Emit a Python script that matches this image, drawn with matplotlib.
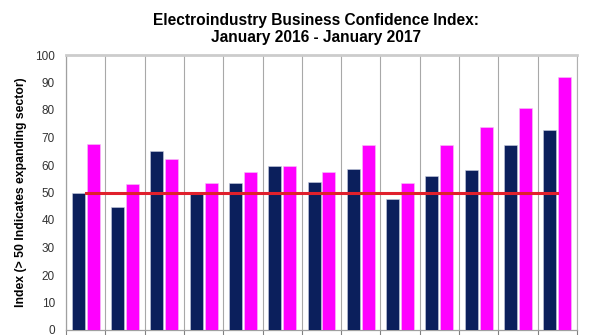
import numpy as np
import matplotlib
matplotlib.use("Agg")
import matplotlib.pyplot as plt

plt.rcParams['font.family'] = ['Liberation Sans', 'DejaVu Sans']

# ----- data -----
months = ["Jan-16", "Feb-16", "Mar-16", "Apr-16", "May-16", "Jun-16", "Jul-16",
          "Aug-16", "Sep-16", "Oct-16", "Nov-16", "Dec-16", "Jan-17"]
current = [50.0, 44.7, 65.0, 49.8, 53.5, 59.7, 53.9, 58.6, 47.5, 56.0, 58.3, 67.1, 72.7]
future = [67.7, 53.1, 62.2, 53.3, 57.5, 59.7, 57.6, 67.1, 53.3, 67.1, 73.9, 80.7, 92.0]
threshold = [50] * len(months)

NAVY = "#0b1f5c"
MAGENTA = "#ff00ff"
RED = "#e0202c"

fig = plt.figure(figsize=(5.95, 3.35), dpi=100)
ax = fig.add_axes([66 / 595, 5 / 335, 511 / 595, 275 / 335])

x = np.arange(len(months))
w = 0.33
ax.bar(x - 0.19, current, width=w, color=NAVY, edgecolor="#c9cde0", linewidth=0.4, zorder=3)
ax.bar(x + 0.19, future, width=w, color=MAGENTA, edgecolor="#f3c6f3", linewidth=0.4, zorder=3)
ax.plot(x, threshold, color=RED, lw=2.2, zorder=4)

ax.set_xlim(-0.5, len(months) - 0.5)
ax.set_ylim(0, 100)
ax.set_yticks(np.arange(0, 101, 10))
ax.tick_params(axis="y", length=0, labelsize=8.5, labelcolor="#333333", pad=8)

# category boundaries: tick marks below axis + vertical grid
bounds = np.arange(-0.5, len(months) + 0.5, 1.0)
ax.set_xticks(bounds)
ax.set_xticklabels([])
ax.tick_params(axis="x", length=4, color="#808080", width=0.8)
ax.grid(axis="x", color="#a8a8a8", lw=0.8, zorder=0)

for s in ["left", "bottom"]:
    ax.spines[s].set_color("#a0a0a0")
    ax.spines[s].set_linewidth(0.9)
ax.spines["right"].set_color("#b0b0b0")
ax.spines["right"].set_linewidth(0.8)
ax.spines["top"].set_color("#cccccc")
ax.spines["top"].set_linewidth(2.0)

ax.set_ylabel("Index (> 50 Indicates expanding sector)", fontsize=8.8, fontweight="bold", labelpad=6)

fig.text(316 / 595, 1 - 29 / 335,
         "Electroindustry Business Confidence Index:\nJanuary 2016 - January 2017",
         ha="center", va="center", fontsize=11.2, fontweight="bold", linespacing=1.1)

fig.savefig("out.png", dpi=100)
